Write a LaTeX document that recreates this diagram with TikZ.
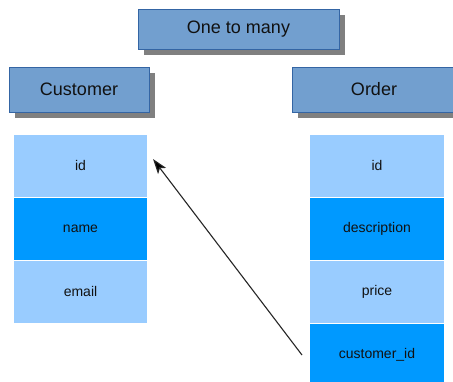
\documentclass[tikz,border=0pt]{standalone}
\usepackage{fontspec}
\setmainfont{Liberation Sans}
\usetikzlibrary{arrows.meta,shadows}
\definecolor{headfill}{HTML}{729FCF}
\definecolor{headline}{HTML}{3465A4}
\definecolor{shadowgray}{HTML}{808080}
\definecolor{rowlight}{HTML}{99CCFF}
\definecolor{rowdark}{HTML}{0099FF}
\definecolor{textdark}{HTML}{111111}
\tikzset{
  header/.style={rectangle, fill=headfill, draw=headline, line width=0.8pt,
    inner sep=0pt, text=textdark, font=\fontsize{18}{20}\selectfont,
    drop shadow={shadow xshift=6pt, shadow yshift=-6pt, fill=shadowgray, opacity=1}},
  field/.style={rectangle, draw=white, line width=1pt, inner sep=0pt,
    minimum height=63pt, text=textdark, font=\fontsize{14}{16}\selectfont},
  lightfield/.style={field, fill=rowlight},
  darkfield/.style={field, fill=rowdark},
  link/.style={draw=black!85, line width=1.1pt,
    -{Stealth[length=15pt, width=10pt, inset=3.5pt, fill=black]}}
}
\begin{document}
\begin{tikzpicture}[x=1pt, y=-1pt]
  \useasboundingbox (0,0) rectangle (453,381);
  \clip (0,0) rectangle (453,381);
  \fill[white] (0,0) rectangle (453,381);

  % headings
  \node[header, minimum width=201pt, minimum height=40pt] (title) at (238.5,29) {One to many};
  \node[header, minimum width=140pt, minimum height=45pt] (customer) at (79,89.5) {Customer};
  \node[header, minimum width=164pt, minimum height=45pt] (order) at (374,89.5) {Order};

  % Customer table
  \begin{scope}[every node/.append style={minimum width=134pt}]
    \node[lightfield] (cid)    at (80.5,165.5) {id};
    \node[darkfield]  (cname)  at (80.5,228.5) {name};
    \node[lightfield] (cemail) at (80.5,291.5) {email};
  \end{scope}

  % Order table
  \begin{scope}[every node/.append style={minimum width=135pt}]
    \node[lightfield] (oid)    at (377,165.5) {id};
    \node[darkfield]  (odesc)  at (377,228.5) {description};
    \node[lightfield] (oprice) at (377,291.5) {price};
    \node[darkfield]  (ocust)  at (377,354.5) {customer\_id};
  \end{scope}

  % foreign key reference
  \coordinate (fkfrom) at (302,355);
  \coordinate (fkto) at (153,159);
  \draw[link] (fkfrom) -- (fkto);
\end{tikzpicture}
\end{document}
